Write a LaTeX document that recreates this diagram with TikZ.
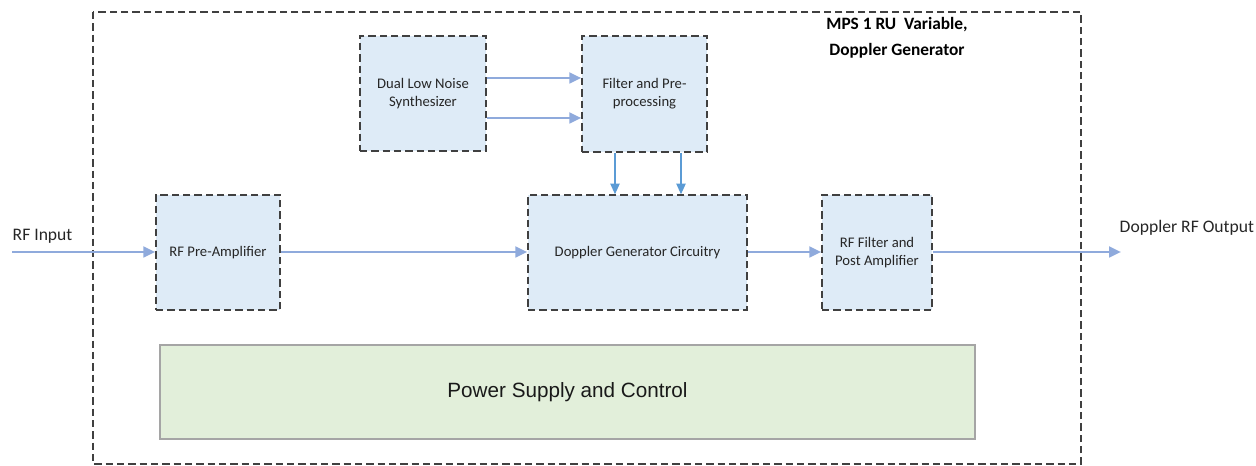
\documentclass[tikz,border=0pt]{standalone}
\usepackage{fontspec}
\setmainfont{Carlito}
\newfontfamily\arialfont{Liberation Sans}
\usetikzlibrary{arrows.meta}
\definecolor{boxblue}{HTML}{DEEBF7}
\definecolor{boxgreen}{HTML}{E2EFDA}
\definecolor{edgegray}{HTML}{404040}
\definecolor{greenedge}{HTML}{A5A5A5}
\definecolor{sigblue}{HTML}{8FAADC}
\definecolor{ctlblue}{HTML}{5B9BD5}
\tikzset{
  dashframe/.style={draw=edgegray, line width=1.1pt, dash pattern=on 5.5pt off 3pt},
  block/.style={dashframe, fill=boxblue, inner sep=0pt, align=center,
    minimum height=86.25pt, font=\fontsize{11}{13.5}\selectfont, text=black!85},
  supply/.style={draw=greenedge, line width=1pt, fill=boxgreen, inner sep=0pt,
    font=\arialfont\fontsize{15.5}{18}\selectfont, text=black!90},
  signal/.style={draw=sigblue, line width=2pt, -{Triangle[length=9pt,width=8pt]}},
  ctrl/.style={draw=ctlblue, line width=1pt, -{Triangle[length=8pt,width=7pt]}},
  lbl/.style={font=\fontsize{13.2}{15}\selectfont, text=black!85},
}
\begin{document}
\begin{tikzpicture}[x=0.75pt,y=-0.75pt]
\useasboundingbox (0,0) rectangle (1256,466);
% enclosure
\draw[dashframe] (93,12) rectangle (1081,464);
\node[font=\bfseries\fontsize{13}{19.5}\selectfont, align=center] (title) at (897,38)
  {MPS 1 RU\ \ Variable,\\Doppler Generator};
% blocks
\node[block, minimum width=94.5pt] (synth) at (423,93.5) {Dual Low Noise\\Synthesizer};
\node[block, minimum width=93.75pt, minimum height=87pt] (filt) at (644.5,94) {Filter and Pre-\\processing};
\node[block, minimum width=93pt] (pre) at (218,252.5) {RF Pre-Amplifier};
\node[block, minimum width=164.25pt] (dop) at (637.5,252.5) {Doppler Generator Circuitry};
\node[block, minimum width=82.5pt] (post) at (877,252.5) {RF Filter and\\Post Amplifier};
\node[supply, minimum width=611.25pt, minimum height=70.5pt] (psu) at (567.5,392) {Power Supply and Control};
% external terminals
\coordinate (in) at (12,252);
\coordinate (out) at (1121,252);
\node[lbl, anchor=west] (inlbl) at (8,236) {RF Input};
\node[lbl, anchor=west] (outlbl) at (1115,228) {Doppler RF Output};
% signal paths
\draw[signal] (in) -- (in -| pre.west);
\draw[signal] (pre.east |- in) -- (dop.west |- in);
\draw[signal] (dop.east |- in) -- (post.west |- in);
\draw[signal] (post.east |- in) -- (out);
\draw[signal] (synth.east |- 0,78) -- (filt.west |- 0,78);
\draw[signal] (synth.east |- 0,118) -- (filt.west |- 0,118);
\draw[ctrl] (filt.south -| 615,0) -- (dop.north -| 615,0);
\draw[ctrl] (filt.south -| 681,0) -- (dop.north -| 681,0);
\end{tikzpicture}
\end{document}
